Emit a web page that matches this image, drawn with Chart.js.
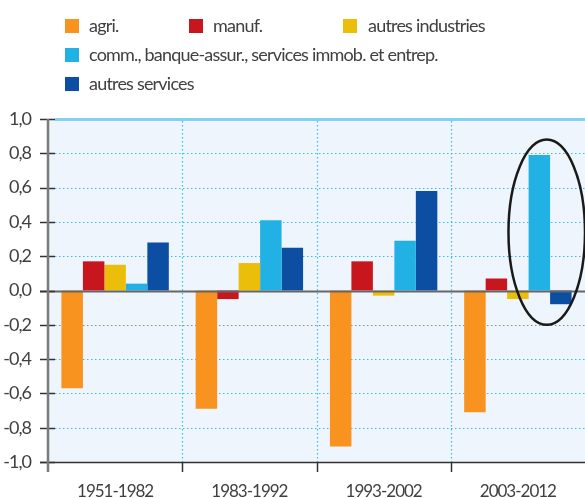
<!DOCTYPE html>
<html>
<head>
<meta charset="utf-8">
<script src="https://cdn.jsdelivr.net/npm/chart.js@4.4.1/dist/chart.umd.min.js"></script>
<style>
    html, body { margin: 0; padding: 0; background: #fff; }
    canvas { display: block; }
</style>
</head>
<body>
<canvas id="chart" width="585" height="498"></canvas>
<script>
// ── DATA ──────────────────────────────────────────────────────────────────────
const periods          = ['1951-1982', '1983-1992', '1993-2002', '2003-2012'];
const agri             = [-0.57, -0.69, -0.91, -0.71];
const manuf            = [ 0.17, -0.05,  0.17,  0.07];
const autresIndustries = [ 0.15,  0.16, -0.03, -0.05];
const commServices     = [ 0.04,  0.41,  0.29,  0.79];
const autresServices   = [ 0.28,  0.25,  0.58, -0.08];
const yMin = -1, yMax = 1, yStep = 0.2;

const seriesLabels = ['agri.', 'manuf.', 'autres industries',
    'comm., banque-assur., services immob. et entrep.', 'autres services'];
const seriesColors = ['#f7931e', '#c8161e', '#ebbe09', '#22b1e5', '#0c4ea2'];

// legend placement (square left/top, text start)
const legendSlots = [
    { x: 65,  y: 19, tx: 89 },
    { x: 189, y: 19, tx: 213 },
    { x: 343, y: 19, tx: 368 },
    { x: 65,  y: 48, tx: 89 },
    { x: 65,  y: 77, tx: 89 },
];

// ellipse highlighting the last period (in category widths / axis values)
const highlight = { category: 3, xOffset: 0.215, halfWidth: 0.285, yLow: -0.2, yHigh: 0.88 };

const TEXT = '#404040';
const GRID_BLUE = '#3bbde9';
const FONT = 'Lato, sans-serif';

const fmt = v => (Math.round(v * 10) / 10).toFixed(1).replace('.', ',');

// ── DECOR PLUGIN ──────────────────────────────────────────────────────────────
const decor = {
    id: 'decor',
    beforeDraw(chart) {
        const { ctx, chartArea: a } = chart;
        ctx.save();
        ctx.fillStyle = '#eef5fc';
        ctx.fillRect(a.left, a.top, a.right - a.left, a.bottom - a.top);
        ctx.restore();
        // tighter tracking for the tick labels, closer to the original typeface
        ctx.letterSpacing = '-1px';
    },
    beforeDatasetsDraw(chart) {
        const { ctx, chartArea: a, scales: { x, y } } = chart;
        const catW = x.getPixelForValue(1) - x.getPixelForValue(0);
        ctx.save();
        // horizontal gridlines
        y.ticks.forEach(t => {
            const v = Math.round(t.value * 10) / 10;
            const py = Math.round(y.getPixelForValue(t.value)) + 0.5;
            if (v === 0) return;
            ctx.beginPath();
            if (v === yMax) {
                ctx.setLineDash([]);
                ctx.strokeStyle = '#86d0ef';
                ctx.lineWidth = 3;
            } else {
                ctx.setLineDash([1.5, 2.5]);
                ctx.strokeStyle = v === -0.2 ? '#8a8a8a' : GRID_BLUE;
                ctx.lineWidth = 1.2;
            }
            ctx.moveTo(a.left + 7, py);
            ctx.lineTo(a.right, py);
            ctx.stroke();
        });
        // vertical dotted separators between periods
        ctx.setLineDash([1.5, 2.5]);
        ctx.strokeStyle = GRID_BLUE;
        ctx.lineWidth = 1.2;
        for (let i = 1; i < periods.length; i++) {
            const px = Math.round(x.getPixelForValue(i) - catW / 2) + 0.5;
            ctx.beginPath();
            ctx.moveTo(px, a.top + 2);
            ctx.lineTo(px, a.bottom);
            ctx.stroke();
        }
        ctx.restore();
    },
    afterDatasetsDraw(chart) {
        const { ctx, chartArea: a, scales: { x, y } } = chart;
        const catW = x.getPixelForValue(1) - x.getPixelForValue(0);
        ctx.save();
        ctx.setLineDash([]);

        // zero line
        const y0 = Math.round(y.getPixelForValue(0)) + 0.5;
        ctx.strokeStyle = '#666';
        ctx.lineWidth = 2;
        ctx.beginPath();
        ctx.moveTo(a.left - 8, y0);
        ctx.lineTo(a.right, y0);
        ctx.stroke();

        // y tick marks
        ctx.strokeStyle = '#333';
        ctx.lineWidth = 1.5;
        y.ticks.forEach(t => {
            const py = Math.round(y.getPixelForValue(t.value)) + 0.5;
            ctx.beginPath();
            ctx.moveTo(a.left - 8, py);
            ctx.lineTo(a.left + 7, py);
            ctx.stroke();
        });

        // bottom axis + period ticks
        ctx.beginPath();
        ctx.moveTo(a.left - 8, a.bottom + 0.5);
        ctx.lineTo(a.right, a.bottom + 0.5);
        ctx.stroke();
        for (let i = 1; i < periods.length; i++) {
            const px = Math.round(x.getPixelForValue(i) - catW / 2) + 0.5;
            ctx.beginPath();
            ctx.moveTo(px, a.bottom);
            ctx.lineTo(px, a.bottom + 10);
            ctx.stroke();
        }

        // left axis
        ctx.strokeStyle = '#7a7a7a';
        ctx.lineWidth = 2.5;
        ctx.beginPath();
        ctx.moveTo(a.left, a.top);
        ctx.lineTo(a.left, a.bottom + 10);
        ctx.stroke();

        // highlight ellipse
        const cx = x.getPixelForValue(highlight.category) + highlight.xOffset * catW;
        const top = y.getPixelForValue(highlight.yHigh);
        const bot = y.getPixelForValue(highlight.yLow);
        ctx.strokeStyle = '#1a1a1a';
        ctx.lineWidth = 2.5;
        ctx.beginPath();
        ctx.ellipse(cx, (top + bot) / 2, highlight.halfWidth * catW, (bot - top) / 2, 0, 0, Math.PI * 2);
        ctx.stroke();
        ctx.restore();
    },
    afterDraw(chart) {
        const { ctx } = chart;
        ctx.save();
        ctx.font = '18px ' + FONT;
        ctx.letterSpacing = '-0.8px';
        ctx.textBaseline = 'middle';
        ctx.textAlign = 'left';
        chart.data.datasets.forEach((ds, i) => {
            const s = legendSlots[i];
            ctx.fillStyle = ds.backgroundColor;
            ctx.fillRect(s.x, s.y, 14, 14);
            ctx.fillStyle = TEXT;
            ctx.fillText(ds.label, s.tx, s.y + 7);
        });
        ctx.restore();
    },
};

// ── CHART ─────────────────────────────────────────────────────────────────────
const seriesData = [agri, manuf, autresIndustries, commServices, autresServices];

new Chart(document.getElementById('chart'), {
    type: 'bar',
    data: {
        labels: periods,
        datasets: seriesData.map((d, i) => ({
            label: seriesLabels[i],
            data: d,
            backgroundColor: seriesColors[i],
            borderWidth: 0,
            categoryPercentage: 0.8,
            barPercentage: 1.0,
        })),
    },
    options: {
        responsive: false,
        devicePixelRatio: 1,
        animation: false,
        layout: { padding: { top: 119, right: 0, bottom: 0, left: 0 } },
        plugins: { legend: { display: false }, tooltip: { enabled: false } },
        scales: {
            x: {
                grid: { display: false, drawTicks: false },
                border: { display: false },
                ticks: { color: TEXT, font: { family: FONT, size: 17 }, padding: 19 },
                afterFit: s => { s.height = 36; },
            },
            y: {
                min: yMin,
                max: yMax,
                grid: { display: false, drawTicks: false },
                border: { display: false },
                ticks: {
                    stepSize: yStep,
                    color: TEXT,
                    font: { family: FONT, size: 18 },
                    padding: 17,
                    callback: v => fmt(v),
                },
                afterFit: s => { s.width = 48; },
            },
        },
    },
    plugins: [decor],
});
</script>
</body>
</html>
